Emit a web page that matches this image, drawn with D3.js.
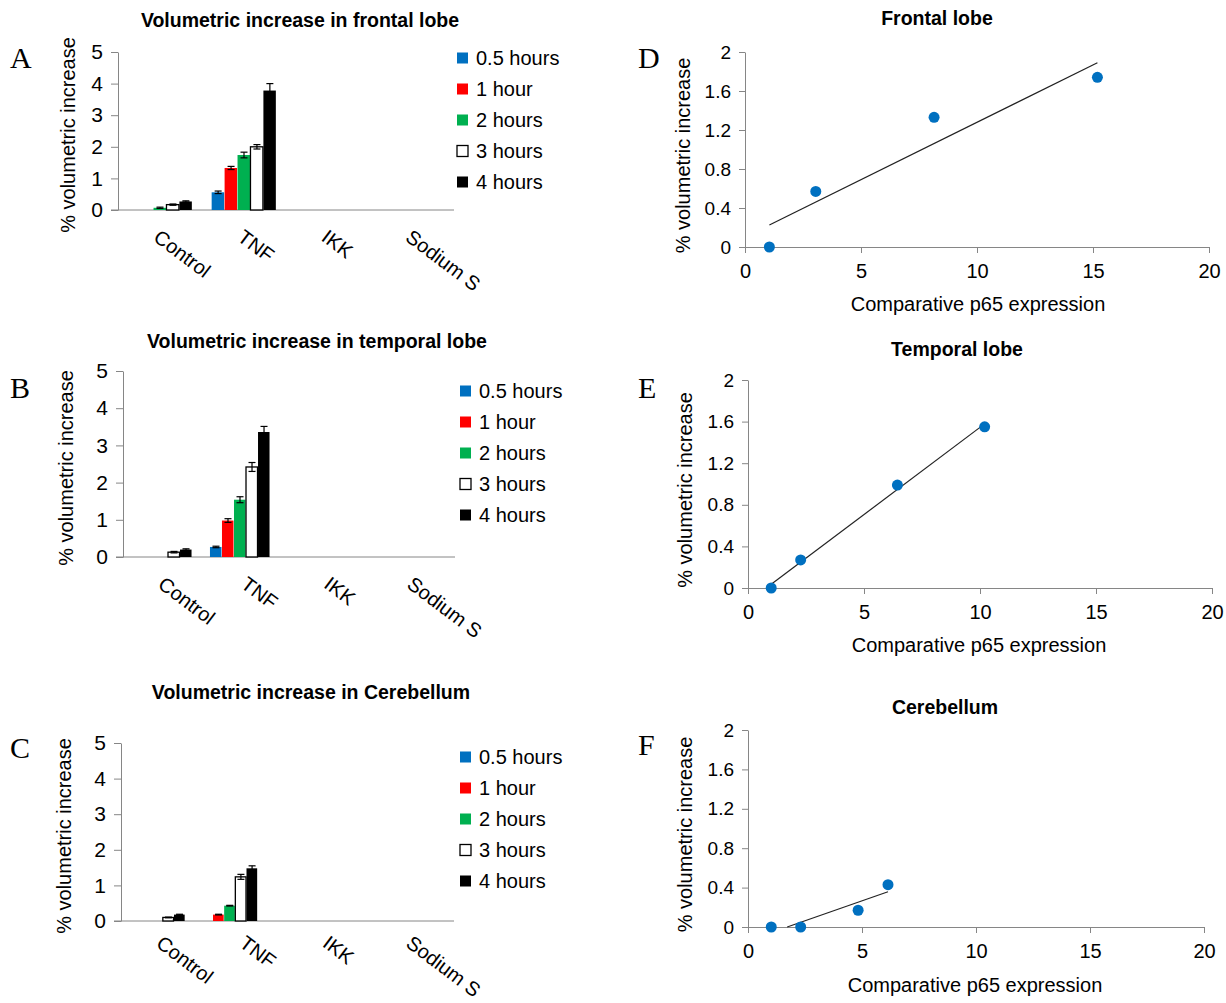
<!DOCTYPE html>
<html>
<head>
<meta charset="utf-8">
<script src="https://cdn.jsdelivr.net/npm/d3@7"></script>
<style>
  body { margin: 0; background: #fff; }
  text { font-family: "Liberation Sans", Arial, sans-serif; fill: #000; }
  .letter { font-family: "Liberation Serif", "Times New Roman", serif; font-size: 30px; }
</style>
</head>
<body>
<svg id="fig" width="1226" height="1003"></svg>
<script>
// ---- data ----
const categories = ["Control", "TNF", "IKK", "Sodium S"];
const seriesNames = ["0.5 hours", "1 hour", "2 hours", "3 hours", "4 hours"];
const seriesColors = ["#0070C0", "#FF0000", "#00B050", "#FFFFFF", "#000000"];

// one row per series, one value per category (null = no bar)
const frontalMean = [
  [0, 0.56, null, null],
  [0, 1.33, null, null],
  [0.07, 1.74, null, null],
  [0.17, 2.0, null, null],
  [0.27, 3.78, null, null]
];
const frontalErr = [
  [0, 0.04, null, null],
  [0, 0.05, null, null],
  [0.02, 0.09, null, null],
  [0.02, 0.07, null, null],
  [0.02, 0.22, null, null]
];
const temporalMean = [
  [0, 0.27, null, null],
  [0, 0.98, null, null],
  [0, 1.54, null, null],
  [0.13, 2.42, null, null],
  [0.2, 3.36, null, null]
];
const temporalErr = [
  [0, 0.02, null, null],
  [0, 0.05, null, null],
  [0, 0.08, null, null],
  [0.02, 0.12, null, null],
  [0.02, 0.15, null, null]
];
const cerebMean = [
  [0, 0, null, null],
  [0, 0.18, null, null],
  [0, 0.43, null, null],
  [0.1, 1.24, null, null],
  [0.18, 1.48, null, null]
];
const cerebErr = [
  [0, 0, null, null],
  [0, 0.01, null, null],
  [0, 0.01, null, null],
  [0.01, 0.07, null, null],
  [0.01, 0.07, null, null]
];
const barTicks = [0, 1, 2, 3, 4, 5];

const frontalP65 = [1.05, 3.05, 8.15, 15.19];
const frontalVol = [0, 0.57, 1.33, 1.74];
const temporalP65 = [1.0, 2.27, 6.44, 10.2];
const temporalVol = [0, 0.27, 0.99, 1.55];
const cerebP65 = [1.02, 2.31, 4.83, 6.14];
const cerebVol = [0, 0, 0.17, 0.43];
const p65Ticks = [0, 5, 10, 15, 20];
const volTicks = [0, 0.4, 0.8, 1.2, 1.6, 2];

const axisGrey = "#868686";
const svg = d3.select("#fig");

// ---- bar panels ----
let barPanels = [
  {letter: "A", title: "Volumetric increase in frontal lobe", mean: frontalMean, err: frontalErr,
   x0: 118, x1: 454, band: 84, yTop: 52, yBot: 210, titleX: 300, titleY: 27, letterY: 68,
   legX: 457, legY: 58, yLabX: 68, catOff: 17},
  {letter: "B", title: "Volumetric increase in temporal lobe", mean: temporalMean, err: temporalErr,
   x0: 123, x1: 455, band: 78, yTop: 371, yBot: 557, titleX: 317, titleY: 348, letterY: 398,
   legX: 460, legY: 391, yLabX: 66, catOff: 17},
  {letter: "C", title: "Volumetric increase in Cerebellum", mean: cerebMean, err: cerebErr,
   x0: 121, x1: 454, band: 72.5, yTop: 743, yBot: 921, titleX: 311, titleY: 699, letterY: 758,
   legX: 460, legY: 757, yLabX: 64, catOff: 12}
];

barPanels.forEach(p => {
  let g = svg.append("g");

  let y = d3.scaleLinear().domain([0, 5]).range([p.yBot, p.yTop]);
  // groups of bars
  let xg = d3.scaleBand().domain(categories).range([p.x0, p.x0 + 4 * p.band]);
  let xs = d3.scaleBand().domain(seriesNames).range([0, xg.bandwidth() * 0.77]);
  // labels sit along the full axis
  let xl = d3.scaleBand().domain(categories).range([p.x0, p.x1]);

  g.append("text").attr("x", p.titleX).attr("y", p.titleY)
    .attr("text-anchor", "middle").style("font-size", "19.5px").style("font-weight", "bold")
    .text(p.title);

  g.append("text").attr("class", "letter").attr("x", 10).attr("y", p.letterY).text(p.letter);

  g.append("text")
    .attr("transform", "translate(" + p.yLabX + "," + ((p.yTop + p.yBot) / 2 + 4) + ") rotate(-90)")
    .attr("text-anchor", "middle").attr("dy", "0.35em").style("font-size", "20px")
    .text("% volumetric increase");

  // y axis
  let yAxis = g.append("g").attr("transform", "translate(" + p.x0 + ",0)")
    .call(d3.axisLeft(y).tickValues(barTicks).tickSize(7).tickSizeOuter(0).tickPadding(8)
      .tickFormat(d3.format("d")));
  yAxis.selectAll("line, path").attr("stroke", axisGrey);
  yAxis.selectAll("text").style("font-size", "21px").attr("fill", "#000");

  // x axis line
  g.append("line").attr("x1", p.x0 - 7).attr("x2", p.x1)
    .attr("y1", p.yBot).attr("y2", p.yBot).attr("stroke", axisGrey);

  // category labels
  g.selectAll(".cat").data(categories).join("text")
    .attr("transform", d => "translate(" + (xl(d) + xl.bandwidth() / 2 + 2) + "," + (p.yBot + p.catOff) + ") rotate(37)")
    .attr("dy", "0.8em").style("font-size", "20px")
    .text(d => d);

  // bars
  let groupOff = xg.bandwidth() * 0.115;
  let bars = [];
  seriesNames.forEach((s, si) => {
    categories.forEach((c, ci) => {
      let v = p.mean[si][ci];
      if (v === null) return;
      bars.push({s: s, si: si, c: c, v: v, e: p.err[si][ci]});
    });
  });

  g.selectAll(".bar").data(bars).join("rect")
    .attr("x", d => xg(d.c) + groupOff + xs(d.s))
    .attr("width", xs.bandwidth() - 0.5)
    .attr("y", d => y(d.v))
    .attr("height", d => y(0) - y(d.v))
    .attr("fill", d => seriesColors[d.si])
    .attr("stroke", d => d.si === 3 ? "#000" : "none")
    .attr("stroke-width", 1.3);

  // error bars
  let eb = g.selectAll(".err").data(bars.filter(d => d.v > 0)).join("g")
    .attr("transform", d => "translate(" + (xg(d.c) + groupOff + xs(d.s) + xs.bandwidth() / 2) + ",0)");
  eb.append("line").attr("y1", d => y(d.v - d.e)).attr("y2", d => y(d.v + d.e))
    .attr("stroke", "#000").attr("stroke-width", 1.2);
  eb.append("line").attr("x1", -3.5).attr("x2", 3.5)
    .attr("y1", d => y(d.v + d.e)).attr("y2", d => y(d.v + d.e))
    .attr("stroke", "#000").attr("stroke-width", 1.2);
  eb.append("line").attr("x1", -3.5).attr("x2", 3.5)
    .attr("y1", d => y(d.v - d.e)).attr("y2", d => y(d.v - d.e))
    .attr("stroke", "#000").attr("stroke-width", 1.2);

  // legend
  let leg = g.selectAll(".leg").data(seriesNames).join("g")
    .attr("transform", (d, i) => "translate(" + p.legX + "," + (p.legY + i * 31) + ")");
  leg.append("rect").attr("x", 0).attr("y", -5.5).attr("width", 11).attr("height", 11)
    .attr("fill", (d, i) => seriesColors[i])
    .attr("stroke", (d, i) => i === 3 ? "#000" : "none").attr("stroke-width", 1.3);
  leg.append("text").attr("x", 19).attr("dy", "0.35em").style("font-size", "20px").text(d => d);
});

// ---- scatter panels ----
let scatterPanels = [
  {letter: "D", title: "Frontal lobe", xs: frontalP65, ys: frontalVol,
   x0: 745, x1: 1209, yTop: 52, yBot: 247, titleX: 937, titleY: 25, letterY: 68,
   xLabX: 978, xLabY: 311, yLabX: 683},
  {letter: "E", title: "Temporal lobe", xs: temporalP65, ys: temporalVol,
   x0: 748, x1: 1212, yTop: 380, yBot: 588, titleX: 957, titleY: 356, letterY: 398,
   xLabX: 979, xLabY: 652, yLabX: 685},
  {letter: "F", title: "Cerebellum", xs: cerebP65, ys: cerebVol,
   x0: 748, x1: 1204, yTop: 730, yBot: 927, titleX: 945, titleY: 714, letterY: 755,
   xLabX: 975, xLabY: 992, yLabX: 685}
];

scatterPanels.forEach(p => {
  let g = svg.append("g");
  let x = d3.scaleLinear().domain([0, 20]).range([p.x0, p.x1]);
  let y = d3.scaleLinear().domain([0, 2]).range([p.yBot, p.yTop]);

  g.append("text").attr("x", p.titleX).attr("y", p.titleY)
    .attr("text-anchor", "middle").style("font-size", "19.5px").style("font-weight", "bold")
    .text(p.title);
  g.append("text").attr("class", "letter").attr("x", 638).attr("y", p.letterY).text(p.letter);

  g.append("text")
    .attr("transform", "translate(" + p.yLabX + "," + ((p.yTop + p.yBot) / 2 + 6) + ") rotate(-90)")
    .attr("text-anchor", "middle").attr("dy", "0.35em").style("font-size", "20px")
    .text("% volumetric increase");
  g.append("text").attr("x", p.xLabX).attr("y", p.xLabY)
    .attr("text-anchor", "middle").style("font-size", "20px")
    .text("Comparative p65 expression");

  let xAxis = g.append("g").attr("transform", "translate(0," + p.yBot + ")")
    .call(d3.axisBottom(x).tickValues(p65Ticks).tickSize(6).tickSizeOuter(0).tickPadding(11));
  xAxis.selectAll("line, path").attr("stroke", axisGrey);
  xAxis.selectAll("text").style("font-size", "20px").attr("fill", "#000");

  let yAxis = g.append("g").attr("transform", "translate(" + p.x0 + ",0)")
    .call(d3.axisLeft(y).tickValues(volTicks).tickSize(6).tickSizeOuter(0).tickPadding(8)
      .tickFormat(d3.format("~g")));
  yAxis.selectAll("line, path").attr("stroke", axisGrey);
  yAxis.selectAll("text").style("font-size", "19px").attr("fill", "#000");

  // linear trendline (least squares), clipped at y = 0
  let mx = d3.mean(p.xs), my = d3.mean(p.ys);
  let sxy = d3.sum(p.xs, (v, i) => (v - mx) * (p.ys[i] - my));
  let sxx = d3.sum(p.xs, v => (v - mx) * (v - mx));
  let slope = sxy / sxx, icpt = my - slope * mx;
  let xa = d3.min(p.xs), xb = d3.max(p.xs);
  if (slope * xa + icpt < 0) xa = -icpt / slope;
  g.append("line")
    .attr("x1", x(xa)).attr("y1", y(slope * xa + icpt))
    .attr("x2", x(xb)).attr("y2", y(slope * xb + icpt))
    .attr("stroke", "#222").attr("stroke-width", 1.2);

  g.selectAll(".pt").data(p.xs).join("circle")
    .attr("cx", d => x(d)).attr("cy", (d, i) => y(p.ys[i]))
    .attr("r", 5.5).attr("fill", "#0070C0");
});
</script>
</body>
</html>
